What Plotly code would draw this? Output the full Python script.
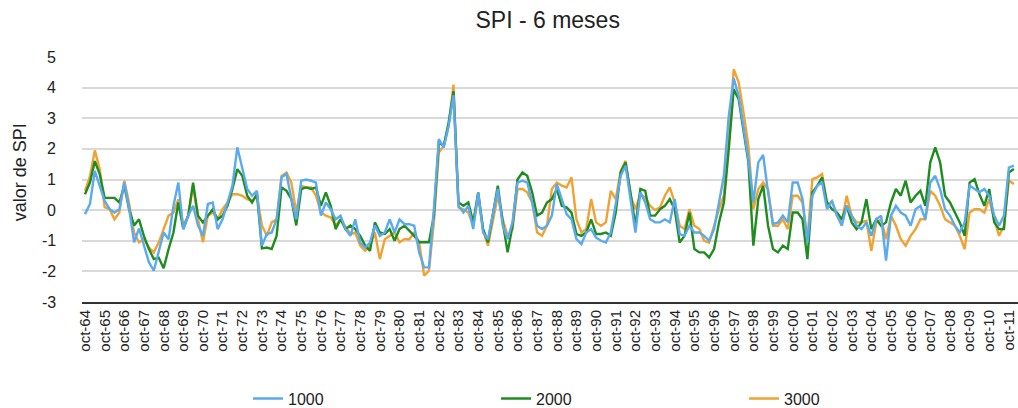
import pandas as pd
import plotly.graph_objects as go

# Quarterly samples, starting October 1964
dates = pd.date_range("1964-10-01", periods=190, freq="3MS")

spi_1000 = [
    -0.13, 0.2, 1.28, 0.8, 0.3, 0.03, -0.08, 0.03, 0.9, 0.03, -1.05, -0.6, -1.16, -1.7, -1.98, -1.38,
    -0.73, -0.95, 0.14, 0.9, -0.62, -0.18, 0.14, -0.5, -0.84, 0.2, 0.25, -0.62, -0.3, 0.25, 0.8, 2.05,
    1.34, 0.69, 0.47, 0.63, -1.16, -0.78, -0.73, -0.3, 1.07, 1.18, 0.36, -0.3, 0.96, 1.0, 0.96, 0.9,
    -0.18, 0.25, 0.03, -0.3, -0.18, -0.62, -0.84, -0.3, -1.06, -1.22, -1.06, -0.5, -0.84, -0.73, -0.3, -0.73,
    -0.3, -0.46, -0.46, -0.51, -1.38, -1.87, -1.87, 0.03, 2.32, 2.05, 2.75, 3.75, 0.14, -0.08, 0.14, -0.62,
    0.58, -0.73, -0.95, -0.18, 0.69, -0.51, -0.95, -0.4, 0.9, 0.96, 0.9, 0.25, -0.51, -0.62, -0.51,
    -0.18, 0.85, 0.36, -0.13, -0.3, -0.95, -1.11, -0.73, -0.62, -0.9, -1.0, -1.06, -0.73, 0.14, 1.12, 1.45,
    0.36, -0.73, 0.58, 0.25, -0.3, -0.4, -0.4, -0.3, -0.4, 0.36, -0.78, -0.84, -0.51, -0.73, -0.73, -0.84,
    -1.0, -0.62, 0.25, 1.12, 3.08, 4.3, 3.73, 2.75, 1.66, 0.25, 1.56, 1.8, 0.58, -0.46, -0.4, -0.18,
    -0.4, 0.9, 0.9, 0.36, -1.06, 0.47, 0.8, 0.9, 0.03, 0.3, -0.18, -0.51, 0.14, -0.18, -0.51, -0.62,
    -0.4, -0.84, -0.3, -0.18, -1.65, -0.18, 0.14, -0.08, -0.18, -0.51, 0.03, 0.14, -0.3, 0.9, 1.12, 0.69,
    0.03, -0.18, -0.51, -0.73, -0.4, 0.8, 0.69, 0.58, 0.69, 0.47, -0.18, -0.51, -0.18, 1.39, 1.45,
]

spi_2000 = [
    0.52, 0.9, 1.6, 1.18, 0.4, 0.4, 0.4, 0.25, 0.8, 0.0, -0.5, -0.3, -0.85, -1.27, -1.6, -1.55,
    -1.9, -1.27, -0.73, 0.25, -0.62, -0.18, 0.9, -0.18, -0.4, -0.18, 0.03, -0.3, -0.18, 0.14, 0.69, 1.34,
    1.12, 0.47, 0.25, 0.52, -1.25, -1.22, -1.27, -0.84, 0.74, 0.63, 0.36, -0.5, 0.69, 0.74, 0.69, 0.74,
    0.14, 0.58, 0.14, -0.62, -0.3, -0.62, -0.5, -0.62, -0.84, -1.16, -1.33, -0.4, -0.73, -0.78, -0.62, -1.0,
    -0.62, -0.51, -0.67, -0.84, -1.05, -1.05, -1.05, -0.18, 2.2, 2.1, 2.86, 3.88, 0.25, 0.14, 0.25, -0.4,
    0.58, -0.62, -1.05, -0.13, 0.8, -0.4, -1.38, -0.51, 1.0, 1.23, 1.12, 0.58, -0.18, -0.08, 0.25,
    0.36, 0.69, 0.14, 0.09, -0.08, -0.78, -0.84, -0.73, -0.3, -0.78, -0.78, -0.73, -0.84, -0.08, 1.23, 1.56,
    0.58, -0.51, 0.69, 0.63, -0.18, -0.18, 0.03, 0.14, 0.36, 0.03, -1.06, -0.84, -0.08, -1.27, -1.38, -1.38,
    -1.55, -1.27, -0.4, 0.25, 1.99, 3.95, 3.62, 2.64, 1.56, -1.16, 0.36, 0.8, -0.51, -1.27, -1.38, -1.16,
    -1.27, -0.08, -0.08, -0.3, -1.6, 0.58, 0.8, 1.07, 0.25, 0.03, -0.08, -0.3, 0.14, -0.4, -0.62, -0.4,
    0.36, -0.62, -0.3, -0.51, -0.4, 0.25, 0.69, 0.47, 0.96, 0.25, 0.47, 0.63, 0.14, 1.56, 2.05, 1.56,
    0.47, 0.25, -0.08, -0.4, -0.84, 0.9, 1.01, 0.52, 0.14, 0.69, -0.4, -0.62, -0.62, 1.23, 1.34,
]

spi_3000 = [
    0.63, 1.1, 1.95, 1.34, 0.1, 0.03, -0.3, -0.08, 0.96, 0.2, -0.73, -1.05, -0.95, -1.22, -1.38, -1.06,
    -0.62, -0.18, -0.08, 0.36, -0.5, -0.18, 0.8, -0.3, -1.05, -0.18, -0.08, -0.3, 0.03, 0.25, 0.52, 0.52,
    0.47, 0.36, 0.3, 0.47, -0.5, -0.84, -0.4, -0.3, 1.12, 1.23, 0.9, -0.08, 0.8, 0.74, 0.74, 0.47,
    -0.08, -0.18, -0.24, -0.5, -0.3, -0.56, -0.78, -0.73, -1.16, -1.33, -1.16, -0.73, -1.6, -0.95, -0.84, -0.73,
    -1.05, -0.95, -0.95, -0.73, -1.05, -2.14, -1.98, -0.4, 1.88, 2.1, 2.75, 4.1, 0.09, 0.03, -0.08, -0.51,
    0.47, -0.67, -1.16, -0.4, 0.47, -0.3, -0.84, -0.62, 0.69, 0.69, 0.58, 0.25, -0.73, -0.84, -0.51,
    0.69, 0.9, 0.8, 0.74, 1.07, -0.3, -0.73, -0.62, 0.36, -0.4, -0.51, -0.4, 0.63, 0.36, 1.28, 1.61,
    0.47, 0.03, 0.52, 0.41, 0.14, 0.0, 0.09, 0.47, 0.74, 0.25, -0.51, -0.62, 0.03, -0.51, -0.62, -1.0,
    -1.06, -0.51, 0.03, 0.47, 2.32, 4.6, 4.17, 3.19, 2.1, 0.03, 0.69, 0.9, 0.69, -0.51, -0.51, -0.3,
    -0.62, 0.47, 0.47, 0.25, -0.95, 1.01, 1.07, 1.18, 0.14, 0.3, -0.18, -0.4, 0.47, -0.18, -0.4, -0.4,
    -0.35, -1.33, -0.4, -0.3, -0.95, -0.18, -0.51, -0.95, -1.16, -0.84, -0.62, -0.3, -0.3, 0.63, 0.47, 0.14,
    -0.3, -0.4, -0.51, -0.84, -1.27, -0.08, 0.03, 0.03, -0.08, 0.36, -0.3, -0.84, -0.51, 0.96, 0.85,
]

tick_years = list(range(1964, 2012))
tick_dates = [pd.Timestamp(year=y, month=10, day=1) for y in tick_years]
tick_labels = ["oct-%02d" % (y % 100) for y in tick_years]
y_ticks = list(range(-3, 6))

FONT = "Liberation Sans, Arial, Helvetica, sans-serif"
series = [
    ("3000", spi_3000, "#f0a232", 3),
    ("2000", spi_2000, "#1e8c1e", 2),
    ("1000", spi_1000, "#5aaaf0", 1),
]

fig = go.Figure()
for name, vals, color, rank in series:
    fig.add_trace(go.Scatter(
        x=dates, y=vals, mode="lines", name=name, legendrank=rank,
        line=dict(color=color, width=2.4),
    ))

annotations = [dict(
    text="valor de SPI", textangle=-90, showarrow=False,
    xref="paper", yref="paper", x=-0.066, y=0.53, xanchor="center", yanchor="middle",
    font=dict(size=18, family=FONT, color="#222222"),
)]
for v in y_ticks:
    annotations.append(dict(
        text=str(v), showarrow=False, xref="paper", yref="y",
        x=-0.0256, y=v, xanchor="right", yanchor="middle",
        font=dict(size=16, family=FONT, color="#222222"),
    ))

fig.update_layout(
    width=1018, height=408,
    margin=dict(l=82, r=0, t=57, b=106, autoexpand=False),
    paper_bgcolor="white", plot_bgcolor="white",
    font=dict(family=FONT, color="#222222"),
    title=dict(text="SPI - 6 meses", x=0.538, xanchor="center", y=0.95, yanchor="middle",
               font=dict(size=23, family=FONT, color="#222222")),
    showlegend=True,
    legend=dict(orientation="h", x=0.1774, xanchor="left", y=-0.325, yanchor="top",
                entrywidth=203, entrywidthmode="pixels",
                font=dict(size=16, family=FONT, color="#222222"),
                bgcolor="rgba(0,0,0,0)"),
    annotations=annotations,
)

fig.update_xaxes(
    range=[pd.Timestamp("1964-08-06"), pd.Timestamp("2012-03-18")],
    tickmode="array", tickvals=tick_dates, ticktext=tick_labels,
    tickangle=-90, tickfont=dict(size=15, family=FONT, color="#222222"),
    showgrid=False, showline=True, linecolor="#333333", linewidth=2,
    ticks="", zeroline=False,
)
fig.update_yaxes(
    range=[-3, 5], tickmode="array", tickvals=y_ticks, showticklabels=False,
    showgrid=True, gridcolor="#d9d9d9", gridwidth=1.5,
    zeroline=False, showline=False, ticks="",
)

fig.write_html(
    "out.html",
    config={"displayModeBar": False},
    post_script="document.body.style.margin='0';document.body.style.overflow='hidden';",
)
